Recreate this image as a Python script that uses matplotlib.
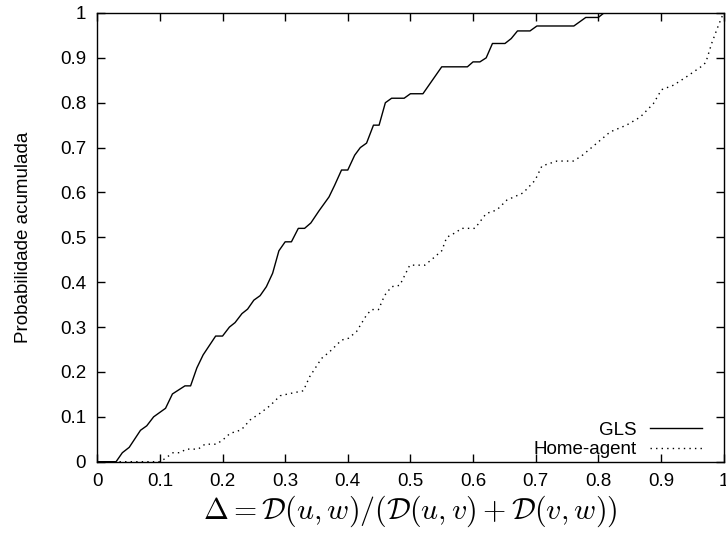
import numpy as np
import matplotlib.pyplot as plt

plt.rcParams['font.family'] = ['Liberation Sans', 'DejaVu Sans']
plt.rcParams['mathtext.fontset'] = 'cm'

# GLS (x, probabilidade acumulada)
gls_x = [0.0, 0.030, 0.040, 0.051, 0.069, 0.079, 0.090, 0.109, 0.120, 0.140, 0.149,
         0.159, 0.169, 0.189, 0.200, 0.211, 0.220, 0.231, 0.240, 0.250, 0.260,
         0.270, 0.280, 0.290, 0.300, 0.310, 0.321, 0.331, 0.341, 0.354, 0.370,
         0.379, 0.390, 0.400, 0.411, 0.420, 0.430, 0.441, 0.450, 0.460, 0.470,
         0.490, 0.500, 0.520, 0.550, 0.591, 0.600, 0.611, 0.621, 0.631, 0.651,
         0.661, 0.671, 0.691, 0.702, 0.761, 0.780, 0.800, 0.809, 1.0]
gls_y = [0.0, 0.0, 0.02, 0.032, 0.07, 0.08, 0.10, 0.119, 0.151, 0.169, 0.169,
         0.209, 0.238, 0.28, 0.28, 0.30, 0.31, 0.33, 0.34, 0.36, 0.37,
         0.39, 0.42, 0.47, 0.49, 0.49, 0.52, 0.52, 0.532, 0.559, 0.59,
         0.616, 0.65, 0.65, 0.683, 0.70, 0.71, 0.75, 0.75, 0.80, 0.81,
         0.81, 0.82, 0.82, 0.88, 0.88, 0.891, 0.891, 0.90, 0.932, 0.932,
         0.943, 0.96, 0.96, 0.971, 0.971, 0.99, 0.99, 1.0, 1.0]

# Home-agent
ha_x = [0.0, 0.100, 0.106, 0.121, 0.132, 0.142, 0.161, 0.172, 0.190, 0.200, 0.212,
        0.230, 0.244, 0.260, 0.276, 0.292, 0.308, 0.329, 0.339, 0.358, 0.371,
        0.390, 0.401, 0.414, 0.430, 0.438, 0.449, 0.459, 0.470, 0.483, 0.499,
        0.523, 0.536, 0.550, 0.558, 0.574, 0.581, 0.603, 0.621, 0.638, 0.654,
        0.680, 0.699, 0.710, 0.734, 0.760, 0.773, 0.791, 0.819, 0.845, 0.867,
        0.888, 0.901, 0.920, 0.939, 0.968, 0.972, 0.981, 0.992, 1.0]
ha_y = [0.0, 0.0, 0.005, 0.02, 0.02, 0.028, 0.028, 0.039, 0.039, 0.048, 0.063,
        0.071, 0.093, 0.108, 0.125, 0.147, 0.152, 0.158, 0.189, 0.23, 0.245,
        0.271, 0.275, 0.29, 0.327, 0.339, 0.339, 0.371, 0.39, 0.393, 0.438,
        0.438, 0.453, 0.47, 0.50, 0.512, 0.52, 0.52, 0.553, 0.561, 0.583,
        0.599, 0.627, 0.659, 0.67, 0.67, 0.681, 0.702, 0.735, 0.75, 0.768,
        0.798, 0.829, 0.839, 0.856, 0.884, 0.891, 0.932, 0.973, 1.0]

ticks = [0, 0.1, 0.2, 0.3, 0.4, 0.5, 0.6, 0.7, 0.8, 0.9, 1]
tick_labels = ['0', '0.1', '0.2', '0.3', '0.4', '0.5', '0.6', '0.7', '0.8', '0.9', '1']

fig = plt.figure(figsize=(7.26, 5.34), dpi=100)
ax = fig.add_axes([0.134, 0.1354, 0.8626, 0.8403])

ax.plot(gls_x, gls_y, color='black', lw=1.0, label='GLS')
ax.plot(ha_x, ha_y, color='black', lw=1.0, linestyle=(0, (1, 3)), label='Home-agent')

ax.set_xlim(0, 1)
ax.set_ylim(0, 1)
ax.set_xticks(ticks)
ax.set_xticklabels(tick_labels)
ax.set_yticks(ticks)
ax.set_yticklabels(tick_labels)
ax.tick_params(direction='in', top=True, right=True, length=6, width=1,
               labelsize=13.5, pad=8)
for s in ax.spines.values():
    s.set_linewidth(1.0)

ax.set_xlabel(r'$\Delta = \mathcal{D}(u,w)/(\mathcal{D}(u,v)+\mathcal{D}(v,w))$',
              fontsize=21.5, labelpad=3)
ax.set_ylabel('Probabilidade acumulada', fontsize=13.5, labelpad=20)

ax.legend(loc='lower right', bbox_to_anchor=(0.966, 0.008), frameon=False,
          markerfirst=False, fontsize=13.5, handlelength=2.8, handletextpad=0.7,
          labelspacing=0.12, borderpad=0, borderaxespad=0)

plt.savefig('out.png', dpi=100)
